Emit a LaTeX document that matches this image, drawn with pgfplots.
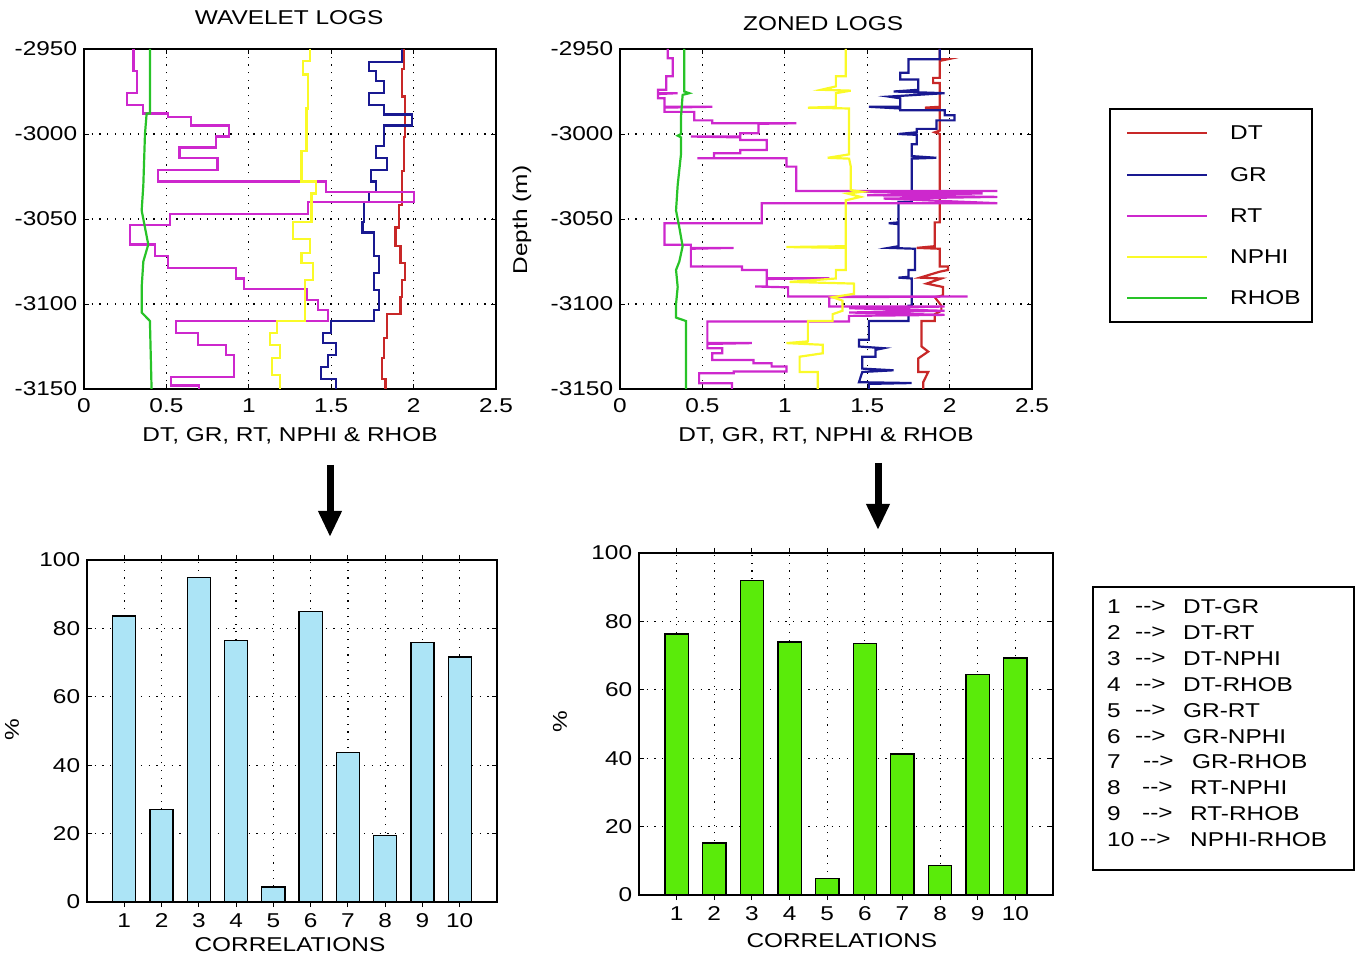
\documentclass[border=0pt]{standalone}
\usepackage{pgfplots}
\pgfplotsset{compat=1.18}
\usepackage{fontspec}
\setmainfont{Liberation Sans}[FakeStretch=1.22]
\usetikzlibrary{arrows.meta}

\definecolor{cDT}{RGB}{200,40,40}
\definecolor{cGR}{RGB}{25,25,145}
\definecolor{cRT}{RGB}{205,40,205}
\definecolor{cNP}{RGB}{250,250,40}
\definecolor{cRH}{RGB}{40,195,40}
\definecolor{barblue}{RGB}{172,228,246}
\definecolor{bargreen}{RGB}{90,235,10}

\newcommand\mf{\fontsize{20}{24}\selectfont}
\newcommand\arr{\mbox{-}\mbox{-}>}

\pgfplotsset{
  matlab/.style={
    scale only axis,
    axis line style={line width=1.1pt},
    tick align=inside,
    major tick length=5pt,
    every tick/.style={black, line width=0.9pt},
    grid=major,
    major grid style={black, line width=1.2pt, dash pattern=on 1.2pt off 6.5pt},
    tick label style={font=\mf},
    label style={font=\mf},
    title style={font=\mf},
    every axis title shift=0pt,
    /pgf/number format/assume math mode=true,
  },
  logs/.style={
    matlab, width=412pt, height=340pt,
    xmin=0, xmax=2.5, ymin=-3150, ymax=-2950,
    xtick={0,0.5,1,1.5,2,2.5},
    xticklabels={0,0.5,1,1.5,2,2.5},
    ytick={-3150,-3100,-3050,-3000,-2950},
    yticklabels={-3150,-3100,-3050,-3000,-2950},
    xticklabel style={yshift=-3pt},
    xlabel={DT, GR, RT, NPHI \& RHOB},
    xlabel style={at={(axis description cs:0.5,-0.138)}, anchor=center},
  },
  bars/.style={
    matlab, width=410pt, height=342pt,
    xmin=0, xmax=11, ymin=0, ymax=100,
    xtick={1,...,10}, ytick={0,20,...,100},
    ybar, bar width=0.62,
    xlabel={CORRELATIONS},
    ylabel={\%},
  },
}

\begin{document}
\mf
\begin{tikzpicture}[x=1pt,y=1pt]
\useasboundingbox (0,0) rectangle (1359,956);

% ---------- wavelet logs
\begin{axis}[logs, at={(84pt,567pt)}, anchor=south west,
  title={WAVELET LOGS},
  title style={at={(axis description cs:0.498,1.091)}, anchor=center}]
\addplot[cDT, line width=2.2pt] coordinates {
 (1.94,-2950) (1.94,-2962) (1.93,-2962) (1.93,-2978) (1.95,-2978) (1.95,-3002)
 (1.94,-3002) (1.94,-3022) (1.93,-3022) (1.93,-3042) (1.91,-3042) (1.91,-3055)
 (1.89,-3055) (1.89,-3066) (1.92,-3066) (1.92,-3076) (1.95,-3076) (1.95,-3086)
 (1.93,-3086) (1.93,-3096) (1.92,-3096) (1.92,-3106) (1.84,-3106) (1.84,-3120)
 (1.82,-3120) (1.82,-3132) (1.81,-3132) (1.81,-3144) (1.83,-3144) (1.83,-3150)};
\addplot[cGR, line width=2.2pt] coordinates {
 (1.93,-2950) (1.93,-2957.5) (1.73,-2957.5) (1.73,-2963) (1.77,-2963) (1.77,-2969)
 (1.82,-2969) (1.82,-2976) (1.73,-2976) (1.73,-2983) (1.82,-2983) (1.82,-2988.5)
 (1.99,-2988.5) (1.99,-2995) (1.82,-2995) (1.82,-3007) (1.77,-3007) (1.77,-3014)
 (1.84,-3014) (1.84,-3021) (1.74,-3021) (1.74,-3028) (1.77,-3028) (1.77,-3034)
 (1.73,-3034) (1.73,-3040) (1.70,-3040) (1.70,-3052) (1.69,-3052) (1.69,-3058)
 (1.76,-3058) (1.76,-3072) (1.79,-3072) (1.79,-3082) (1.76,-3082) (1.76,-3092)
 (1.79,-3092) (1.79,-3103.5) (1.76,-3103.5) (1.76,-3110) (1.50,-3110) (1.50,-3117)
 (1.45,-3117) (1.45,-3123) (1.53,-3123) (1.53,-3130) (1.48,-3130) (1.48,-3137)
 (1.44,-3137) (1.44,-3144) (1.53,-3144) (1.53,-3150)};
\addplot[cRT, line width=2.2pt] coordinates {
 (0.30,-2950) (0.30,-2963) (0.32,-2963) (0.32,-2976) (0.26,-2976) (0.26,-2983)
 (0.36,-2983) (0.36,-2988) (0.51,-2988) (0.51,-2990) (0.65,-2990) (0.65,-2995)
 (0.88,-2995) (0.88,-3001.5) (0.80,-3001.5) (0.80,-3008) (0.58,-3008) (0.58,-3014)
 (0.81,-3014) (0.81,-3021) (0.45,-3021) (0.45,-3028) (1.47,-3028) (1.47,-3034)
 (2.00,-3034) (2.00,-3040) (1.36,-3040) (1.36,-3047) (0.52,-3047) (0.52,-3053.5)
 (0.28,-3053.5) (0.28,-3065) (0.43,-3065) (0.43,-3072) (0.51,-3072) (0.51,-3078.6)
 (0.92,-3078.6) (0.92,-3085) (0.97,-3085) (0.97,-3091) (1.35,-3091) (1.35,-3097.6)
 (1.42,-3097.6) (1.42,-3103.5) (1.48,-3103.5) (1.48,-3110) (0.56,-3110) (0.56,-3117)
 (0.69,-3117) (0.69,-3124) (0.86,-3124) (0.86,-3130) (0.91,-3130) (0.91,-3143)
 (0.53,-3143) (0.53,-3148) (0.70,-3148) (0.70,-3150)};
\addplot[cNP, line width=2.2pt] coordinates {
 (1.37,-2950) (1.37,-2957) (1.33,-2957) (1.33,-2965) (1.36,-2965) (1.36,-2985)
 (1.35,-2985) (1.35,-3010) (1.32,-3010) (1.32,-3028) (1.41,-3028) (1.41,-3035)
 (1.38,-3035) (1.38,-3052) (1.27,-3052) (1.27,-3062) (1.37,-3062) (1.37,-3070)
 (1.32,-3070) (1.32,-3076) (1.39,-3076) (1.39,-3086) (1.34,-3086) (1.34,-3110)
 (1.17,-3110) (1.17,-3117) (1.13,-3117) (1.13,-3124) (1.19,-3124) (1.19,-3132)
 (1.14,-3132) (1.14,-3142) (1.19,-3142) (1.19,-3150)};
\addplot[cRH, line width=2.2pt] coordinates {
 (0.40,-2950) (0.40,-2988) (0.38,-2988) (0.37,-3000) (0.36,-3030) (0.35,-3045)
 (0.37,-3055) (0.39,-3065) (0.36,-3075) (0.35,-3090) (0.35,-3105) (0.40,-3110)
 (0.41,-3150)};
\end{axis}

% ---------- zoned logs
\begin{axis}[logs, at={(620pt,567pt)}, anchor=south west,
  title={ZONED LOGS},
  title style={at={(axis description cs:0.493,1.074)}, anchor=center},
  ylabel={Depth (m)},
  ylabel style={at={(axis description cs:-0.238,0.497)}, anchor=center}]
\addplot[cDT, line width=2.2pt] coordinates {
 (1.94,-2950) (1.94,-2956) (1.99,-2956) (1.94,-2957) (1.94,-2967) (1.90,-2967)
 (1.90,-2970) (1.94,-2970) (1.94,-2984) (1.85,-2984.5) (1.94,-2985) (1.94,-2998)
 (1.91,-2999) (1.94,-3000) (1.94,-3052) (1.91,-3052) (1.91,-3066) (1.80,-3067)
 (1.94,-3067.5) (1.94,-3078) (1.99,-3078) (1.99,-3080) (1.94,-3081) (1.82,-3084.5)
 (1.95,-3085) (1.86,-3088) (1.96,-3090) (1.96,-3095) (1.91,-3096) (1.95,-3101)
 (1.95,-3104) (1.91,-3106) (1.91,-3110) (1.83,-3110) (1.83,-3125) (1.87,-3128)
 (1.81,-3132) (1.81,-3140) (1.87,-3140) (1.84,-3146) (1.84,-3150)};
\addplot[cGR, line width=2.2pt] coordinates {
 (1.94,-2950) (1.94,-2956) (1.75,-2956) (1.75,-2964) (1.70,-2964) (1.70,-2968)
 (1.81,-2968) (1.81,-2974) (1.66,-2975) (1.97,-2976) (1.63,-2978) (1.70,-2979)
 (1.70,-2984) (1.51,-2984) (1.70,-2985) (1.70,-2986) (1.97,-2986) (1.97,-2989)
 (2.03,-2989) (2.03,-2992) (1.92,-2992) (1.92,-2997) (1.80,-2997) (1.80,-2999)
 (1.69,-3000) (1.80,-3000.5) (1.80,-3006) (1.77,-3006) (1.77,-3013) (1.92,-3014)
 (1.77,-3014.5) (1.77,-3040) (1.69,-3040) (1.69,-3052) (1.63,-3052.5) (1.69,-3053)
 (1.69,-3066) (1.63,-3067) (1.79,-3067.5) (1.79,-3080) (1.75,-3080) (1.75,-3084)
 (1.69,-3084.5) (1.77,-3085) (1.77,-3101) (1.75,-3101) (1.75,-3110) (1.51,-3110)
 (1.51,-3121) (1.45,-3121) (1.45,-3125) (1.60,-3126) (1.55,-3127) (1.55,-3131)
 (1.47,-3131) (1.47,-3138) (1.66,-3139) (1.47,-3140) (1.45,-3146) (1.77,-3146.5)
 (1.51,-3147) (1.51,-3150)};
\addplot[cRT, line width=2.2pt] coordinates {
 (0.29,-2950) (0.29,-2955.5) (0.32,-2955.5) (0.32,-2966) (0.28,-2966) (0.28,-2974)
 (0.23,-2974) (0.23,-2976) (0.35,-2976) (0.23,-2976.5) (0.23,-2979) (0.27,-2979)
 (0.27,-2984) (0.56,-2984) (0.27,-2984.5) (0.27,-2987) (0.45,-2987) (0.45,-2992)
 (0.56,-2992) (0.56,-2993.7) (1.07,-2993.7) (0.84,-2994) (0.84,-2999.6) (0.73,-2999.6)
 (0.73,-3001.5) (0.43,-3001.5) (0.73,-3002) (0.73,-3003.5) (0.89,-3003.5) (0.89,-3009.4)
 (0.73,-3009.4) (0.73,-3011.3) (0.57,-3011.3) (0.57,-3014.3) (0.47,-3014.3) (1.01,-3014.3)
 (1.01,-3019.2) (1.07,-3019.2) (1.07,-3033.5) (2.29,-3033.5) (1.47,-3034) (2.20,-3035)
 (1.50,-3036) (2.29,-3037) (1.60,-3038) (2.29,-3040.7) (0.86,-3040.7) (0.86,-3052.5)
 (0.27,-3052.5) (0.27,-3065.2) (0.43,-3065.2) (0.43,-3067) (0.69,-3067) (0.43,-3067.5)
 (0.43,-3078) (0.74,-3078) (0.74,-3080) (0.89,-3080) (0.89,-3084.8) (1.27,-3084.8)
 (0.89,-3085.3) (0.89,-3089.7) (0.82,-3089.7) (1.02,-3090.2) (1.02,-3095.6) (2.11,-3095.6)
 (1.27,-3096) (1.27,-3101.5) (1.97,-3101.5) (1.39,-3102.5) (1.97,-3104) (1.39,-3105)
 (1.97,-3106.4) (1.39,-3107) (1.39,-3110.3) (0.53,-3110.3) (0.53,-3123) (0.80,-3123)
 (0.53,-3123.5) (0.53,-3126) (0.62,-3126) (0.62,-3129) (0.56,-3129) (0.56,-3132.9)
 (0.81,-3132.9) (0.81,-3134.8) (0.92,-3134.8) (0.92,-3136.8) (1.01,-3136.8) (1.01,-3139.7)
 (0.69,-3139.7) (0.69,-3140.7) (0.48,-3140.7) (0.48,-3146.6) (0.68,-3146.6) (0.68,-3150)};
\addplot[cNP, line width=2.2pt] coordinates {
 (1.37,-2950) (1.37,-2966) (1.31,-2966) (1.31,-2972) (1.22,-2974) (1.40,-2974.5)
 (1.31,-2976) (1.31,-2984) (1.14,-2984.5) (1.39,-2985) (1.39,-3012) (1.26,-3014)
 (1.39,-3014.5) (1.40,-3019) (1.40,-3033) (1.47,-3034) (1.38,-3035) (1.46,-3037)
 (1.37,-3039) (1.37,-3066) (1.01,-3066.5) (1.37,-3067) (1.37,-3080) (1.31,-3080)
 (1.31,-3085) (1.03,-3087) (1.42,-3088) (1.42,-3094) (1.29,-3096) (1.35,-3098)
 (1.35,-3104) (1.29,-3106) (1.29,-3110) (1.14,-3110) (1.14,-3122) (1.01,-3123)
 (1.23,-3124) (1.23,-3129) (1.09,-3131) (1.09,-3140) (1.20,-3140) (1.20,-3150)};
\addplot[cRH, line width=2.2pt] coordinates {
 (0.39,-2950) (0.39,-2975) (0.42,-2976) (0.38,-2977) (0.37,-2990) (0.37,-3000)
 (0.35,-3001) (0.37,-3002) (0.37,-3012) (0.35,-3030) (0.34,-3045) (0.36,-3055)
 (0.38,-3066) (0.36,-3075) (0.34,-3080) (0.35,-3090) (0.34,-3100) (0.34,-3108)
 (0.40,-3110) (0.40,-3150)};
\end{axis}

% key to the log colours
\draw[line width=1.1pt] (1110,634) rectangle (1312,847);
\foreach \c/\y/\t in {cDT/823/DT, cGR/781/GR, cRT/740/RT, cNP/699/NPHI, cRH/658/RHOB} {
  \draw[\c, line width=1.8pt] (1127,\y) -- (1207,\y);
  \node[anchor=west, inner sep=0pt] at (1230,\y) {\t};
}

% ---------- correlations, wavelet
\begin{axis}[bars, at={(87pt,54pt)}, anchor=south west,
  xlabel style={at={(axis description cs:0.495,-0.126)}, anchor=center},
  ylabel style={at={(axis description cs:-0.183,0.503)}, anchor=center}]
\addplot[fill=barblue, draw=black, line width=1.3pt] coordinates {
 (1,83.6) (2,27.1) (3,94.9) (4,76.4) (5,4.4)
 (6,85.0) (7,43.7) (8,19.5) (9,75.9) (10,71.6)};
\end{axis}

% ---------- correlations, zoned
\begin{axis}[bars, at={(639pt,61pt)}, anchor=south west, width=414pt,
  xlabel style={at={(axis description cs:0.49,-0.132)}, anchor=center},
  ylabel style={at={(axis description cs:-0.191,0.506)}, anchor=center}]
\addplot[fill=bargreen, draw=black, line width=1.3pt] coordinates {
 (1,76.3) (2,15.2) (3,91.9) (4,74.0) (5,4.8)
 (6,73.5) (7,41.2) (8,8.6) (9,64.5) (10,69.3)};
\end{axis}

% arrows between the panels
\draw[line width=7pt, -{Triangle[width=22pt, length=26pt]}] (330,491) -- (330,419);
\draw[line width=7pt, -{Triangle[width=22pt, length=26pt]}] (878,493) -- (878,426);

% key to the correlation numbers
\draw[line width=1.1pt] (1093,86) rectangle (1354,369);
\foreach \n/\y/\xa/\xt/\t in {
  1/349/1135/1183/DT-GR, 2/323/1135/1183/DT-RT, 3/297/1135/1183/DT-NPHI,
  4/271/1135/1183/DT-RHOB, 5/245/1135/1183/GR-RT, 6/219/1135/1183/GR-NPHI,
  7/194/1143/1192/GR-RHOB, 8/168/1142/1190/RT-NPHI, 9/142/1142/1190/RT-RHOB,
  10/116/1140/1190/NPHI-RHOB} {
  \node[anchor=west, inner sep=0pt] at (1107,\y) {\n};
  \node[anchor=west, inner sep=0pt] at (\xa,\y) {\arr};
  \node[anchor=west, inner sep=0pt] at (\xt,\y) {\t};
}
\end{tikzpicture}
\end{document}
